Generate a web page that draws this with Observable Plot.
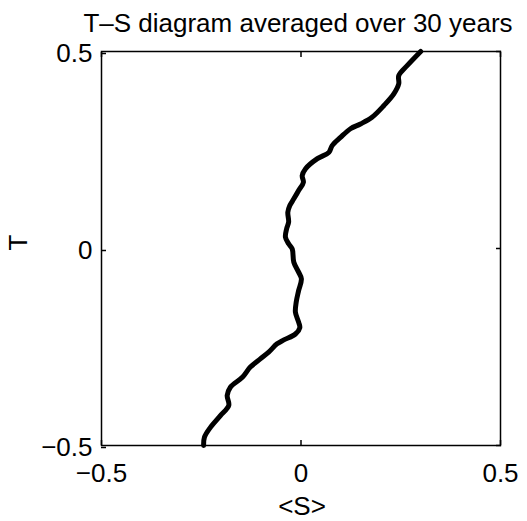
<!DOCTYPE html>
<html>
<head>
<meta charset="utf-8">
<script src="https://cdn.jsdelivr.net/npm/d3@7"></script>
<script src="https://cdn.jsdelivr.net/npm/@observablehq/plot@0.6"></script>
<style>
  html, body { margin: 0; padding: 0; background: #fff; }
</style>
</head>
<body>
<div id="chart"></div>
<script>
// T–S curve (bottom to top)
const salinity = [
  -0.244, -0.242, -0.227, -0.202, -0.181, -0.185, -0.177, -0.147, -0.127, -0.102,
  -0.081, -0.060, -0.043, -0.014, -0.003, -0.006, -0.014, -0.012, -0.006, 0.001,
  -0.006, -0.018, -0.022, -0.031, -0.039, -0.036, -0.031, -0.033, -0.028, -0.018,
  -0.006, 0.006, 0.003, 0.011, 0.041, 0.070, 0.078, 0.099, 0.124, 0.149,
  0.178, 0.208, 0.233, 0.245, 0.245, 0.266, 0.300
];
const temperature = [
  -0.500, -0.479, -0.454, -0.424, -0.398, -0.373, -0.352, -0.327, -0.301, -0.280,
  -0.263, -0.242, -0.232, -0.217, -0.201, -0.187, -0.162, -0.136, -0.107, -0.077,
  -0.060, -0.035, -0.001, 0.012, 0.029, 0.050, 0.067, 0.092, 0.109, 0.126,
  0.147, 0.168, 0.185, 0.202, 0.228, 0.244, 0.261, 0.282, 0.304, 0.316,
  0.333, 0.363, 0.393, 0.418, 0.439, 0.464, 0.500
];
const xTicks = [-0.5, 0, 0.5];
const yTicks = [-0.5, 0, 0.5];
const titleText = "T\u2013S diagram averaged over 30 years";
const xLabel = "<S>";
const yLabel = "T";

const data = salinity.map((s, i) => ({s, t: temperature[i]}));
const fmt = d => d === 0 ? "0" : (d < 0 ? "\u2212" : "") + String(Math.abs(d));
const font = "'Liberation Sans', Arial, Helvetica, sans-serif";

const chart = Plot.plot({
  width: 527,
  height: 521,
  marginLeft: 101,
  marginRight: 27,
  marginTop: 51,
  marginBottom: 76,
  style: {fontFamily: font, fontSize: "26px", background: "#fff", color: "#000", overflow: "visible"},
  x: {domain: [-0.5, 0.5]},
  y: {domain: [-0.5, 0.5]},
  marks: [
    Plot.line(data, {x: "s", y: "t", stroke: "#000", strokeWidth: 5, curve: "catmull-rom", strokeLinejoin: "round"}),
    Plot.frame({stroke: "#000", strokeWidth: 1.5}),
    Plot.axisX({anchor: "bottom", ticks: xTicks, tickFormat: fmt, tickSize: -5, tickPadding: 23, label: null, strokeWidth: 1.5}),
    Plot.axisX({anchor: "top", ticks: xTicks, tickFormat: () => "", tickSize: -5, label: null, strokeWidth: 1.5}),
    Plot.axisY({anchor: "left", ticks: yTicks, tickFormat: fmt, tickSize: -5, tickPadding: 14, label: null, strokeWidth: 1.5, dy: 2}),
    Plot.axisY({anchor: "right", ticks: yTicks, tickFormat: () => "", tickSize: -5, label: null, strokeWidth: 1.5}),
    Plot.text([xLabel], {frameAnchor: "bottom", dy: 51, dx: 1, lineAnchor: "top", fontSize: 26, fill: "#000"}),
    Plot.text([yLabel], {frameAnchor: "left", dx: -93, dy: 2, rotate: -90, lineAnchor: "top", fontSize: 26, fill: "#000"}),
    Plot.text([titleText], {frameAnchor: "top", dy: -20, dx: -3, lineAnchor: "bottom", fontSize: 26, fill: "#000"})
  ]
});
document.getElementById("chart").appendChild(chart);
</script>
</body>
</html>
